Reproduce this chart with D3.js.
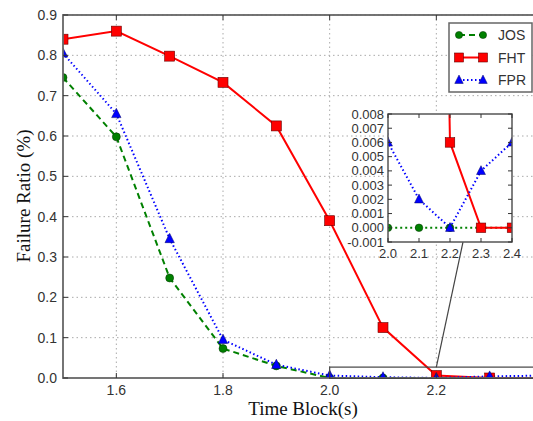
<!DOCTYPE html>
<html lang="en">
<head>
  <meta charset="UTF-8">
  <title>Failure Ratio vs Time Block</title>
  <script src="https://d3js.org/d3.v7.min.js"></script>
  <style>
    body { margin: 0; background: #fff; }
    .tick-label { font-family: "Liberation Sans", Arial, sans-serif; fill: #333; }
    .axis-title { font-family: "Liberation Serif", "Times New Roman", serif; fill: #111; }
  </style>
</head>
<body>
  <div id="chart"></div>
  <script>
    // data
    const blocks = [1.5, 1.6, 1.7, 1.8, 1.9, 2.0, 2.1, 2.2, 2.3, 2.4];
    const jos = [0.745, 0.598, 0.248, 0.073, 0.030, 0.0, 0.0, 0.0, 0.0, 0.0];
    const fht = [0.840, 0.860, 0.798, 0.733, 0.625, 0.390, 0.125, 0.006, 0.0, 0.0];
    const fpr = [0.805, 0.655, 0.345, 0.095, 0.033, 0.006, 0.002, 0.0, 0.004, 0.006];
    const xTicks = [1.6, 1.8, 2.0, 2.2];
    const yTicks = [0.0, 0.1, 0.2, 0.3, 0.4, 0.5, 0.6, 0.7, 0.8, 0.9];
    const insetXTicks = [2.0, 2.1, 2.2, 2.3, 2.4];
    const insetYTicks = [-0.001, 0, 0.001, 0.002, 0.003, 0.004, 0.005, 0.006, 0.007, 0.008];

    const series = [
      { name: "JOS", values: jos, color: "#008000", dash: "6,4", insetDash: "2,3", marker: "circle" },
      { name: "FHT", values: fht, color: "#ff0000", dash: null, insetDash: null, marker: "square" },
      { name: "FPR", values: fpr, color: "#0000ff", dash: "1.5,2.5", insetDash: "1.5,2.5", marker: "triangle" }
    ];

    const W = 533, H = 421;
    const svg = d3.select("#chart").append("svg").attr("width", W).attr("height", H);

    const x = d3.scaleLinear().domain([1.5, 2.4]).range([63, 543]);
    const y = d3.scaleLinear().domain([0, 0.9]).range([378, 15]);

    svg.append("clipPath").attr("id", "plotclip")
      .append("rect").attr("x", 63).attr("y", 15).attr("width", 480).attr("height", 363);

    // grid
    const grid = svg.append("g");
    grid.selectAll(".gx").data(xTicks).enter().append("line")
      .attr("x1", d => x(d)).attr("x2", d => x(d)).attr("y1", 15).attr("y2", 378)
      .attr("stroke", "#aaa").attr("stroke-dasharray", "1.5,3");
    grid.selectAll(".gy").data(yTicks.slice(1)).enter().append("line")
      .attr("x1", 63).attr("x2", 543).attr("y1", d => y(d)).attr("y2", d => y(d))
      .attr("stroke", "#aaa").attr("stroke-dasharray", "1.5,3");

    function drawMarker(g, type, cx, cy, color, size) {
      if (type === "circle") {
        g.append("circle").attr("cx", cx).attr("cy", cy).attr("r", size * 0.4)
          .attr("fill", color).attr("stroke", "#003300").attr("stroke-width", 0.5);
      } else if (type === "square") {
        g.append("rect").attr("x", cx - size / 2).attr("y", cy - size / 2)
          .attr("width", size).attr("height", size)
          .attr("fill", color).attr("stroke", "#660000").attr("stroke-width", 0.6);
      } else {
        const s = size;
        g.append("path")
          .attr("d", `M${cx},${cy - s * 0.55}L${cx + s * 0.47},${cy + s * 0.38}L${cx - s * 0.47},${cy + s * 0.38}Z`)
          .attr("fill", color).attr("stroke", "#000066").attr("stroke-width", 0.5);
      }
    }

    // main lines
    const plot = svg.append("g").attr("clip-path", "url(#plotclip)");
    series.forEach(s => {
      const line = d3.line().x((d, i) => x(blocks[i])).y(d => y(d));
      plot.append("path").datum(s.values).attr("d", line)
        .attr("fill", "none").attr("stroke", s.color).attr("stroke-width", 2)
        .attr("stroke-dasharray", s.dash);
    });
    series.forEach(s => {
      s.values.forEach((v, i) => drawMarker(plot, s.marker, x(blocks[i]), y(v), s.color, 10));
    });

    // frame
    svg.append("rect").attr("x", 63).attr("y", 15).attr("width", 480).attr("height", 363)
      .attr("fill", "none").attr("stroke", "#666").attr("stroke-width", 1.8);

    // ticks (inward)
    xTicks.forEach(t => {
      svg.append("line").attr("x1", x(t)).attr("x2", x(t)).attr("y1", 378).attr("y2", 373).attr("stroke", "#333");
      svg.append("line").attr("x1", x(t)).attr("x2", x(t)).attr("y1", 15).attr("y2", 20).attr("stroke", "#333");
      svg.append("text").attr("class", "tick-label").attr("x", x(t)).attr("y", 395)
        .attr("text-anchor", "middle").attr("font-size", 14).text(t.toFixed(1));
    });
    yTicks.forEach(t => {
      svg.append("line").attr("x1", 63).attr("x2", 68).attr("y1", y(t)).attr("y2", y(t)).attr("stroke", "#333");
      svg.append("text").attr("class", "tick-label").attr("x", 57).attr("y", y(t) + 5)
        .attr("text-anchor", "end").attr("font-size", 14).text(t.toFixed(1));
    });

    svg.append("text").attr("class", "axis-title").attr("x", 303).attr("y", 415)
      .attr("text-anchor", "middle").attr("font-size", 19).text("Time Block(s)");
    svg.append("text").attr("class", "axis-title")
      .attr("transform", "translate(30,196) rotate(-90)")
      .attr("text-anchor", "middle").attr("font-size", 19).text("Failure Ratio (%)");

    // zoom box + connector
    svg.append("rect").attr("x", x(2.0)).attr("y", y(0.027)).attr("width", x(2.4) - x(2.0)).attr("height", y(-0.001) - y(0.027))
      .attr("fill", "none").attr("stroke", "#444").attr("stroke-width", 1.2);
    svg.append("line").attr("x1", x(2.2)).attr("y1", y(0.027)).attr("x2", 463).attr("y2", 242)
      .attr("stroke", "#444").attr("stroke-width", 1.2);

    // legend
    const leg = svg.append("g");
    leg.append("rect").attr("x", 449).attr("y", 23).attr("width", 83).attr("height", 69)
      .attr("fill", "#fff").attr("stroke", "#666").attr("stroke-width", 1.5);
    series.forEach((s, i) => {
      const ly = 35 + i * 22.5;
      leg.append("line").attr("x1", 459).attr("x2", 483).attr("y1", ly).attr("y2", ly)
        .attr("stroke", s.color).attr("stroke-width", 2).attr("stroke-dasharray", s.dash);
      drawMarker(leg, s.marker, 459, ly, s.color, 9);
      drawMarker(leg, s.marker, 483, ly, s.color, 9);
      leg.append("text").attr("class", "tick-label").attr("x", 498).attr("y", ly + 5)
        .attr("font-size", 14).attr("fill", "#222").text(s.name);
    });

    // inset
    const ix = d3.scaleLinear().domain([2.0, 2.4]).range([388, 512]);
    const iy = d3.scaleLinear().domain([-0.001, 0.008]).range([242, 114]);
    svg.append("rect").attr("x", 388).attr("y", 114).attr("width", 124).attr("height", 128).attr("fill", "#fff");
    svg.append("clipPath").attr("id", "insetclip")
      .append("rect").attr("x", 388).attr("y", 114).attr("width", 124).attr("height", 128);
    const inset = svg.append("g").attr("clip-path", "url(#insetclip)");
    const from = blocks.indexOf(2.0);
    series.forEach(s => {
      const pts = s.values.slice(from - 1);
      const xs = blocks.slice(from - 1);
      const line = d3.line().x((d, i) => ix(xs[i])).y(d => iy(d));
      inset.append("path").datum(pts).attr("d", line)
        .attr("fill", "none").attr("stroke", s.color).attr("stroke-width", 2)
        .attr("stroke-dasharray", s.insetDash);
    });
    series.forEach(s => {
      s.values.forEach((v, i) => {
        if (blocks[i] >= 2.0) drawMarker(inset, s.marker, ix(blocks[i]), iy(v), s.color, 9.5);
      });
    });
    svg.append("rect").attr("x", 388).attr("y", 114).attr("width", 124).attr("height", 128)
      .attr("fill", "none").attr("stroke", "#555").attr("stroke-width", 1.5);
    insetXTicks.forEach(t => {
      svg.append("line").attr("x1", ix(t)).attr("x2", ix(t)).attr("y1", 242).attr("y2", 238).attr("stroke", "#333");
      svg.append("line").attr("x1", ix(t)).attr("x2", ix(t)).attr("y1", 114).attr("y2", 118).attr("stroke", "#333");
      svg.append("text").attr("class", "tick-label").attr("x", ix(t)).attr("y", 258)
        .attr("text-anchor", "middle").attr("font-size", 13).text(t.toFixed(1));
    });
    insetYTicks.forEach(t => {
      svg.append("line").attr("x1", 388).attr("x2", 392).attr("y1", iy(t)).attr("y2", iy(t)).attr("stroke", "#333");
      svg.append("line").attr("x1", 512).attr("x2", 508).attr("y1", iy(t)).attr("y2", iy(t)).attr("stroke", "#333");
      svg.append("text").attr("class", "tick-label").attr("x", 384).attr("y", iy(t) + 4.5)
        .attr("text-anchor", "end").attr("font-size", 13).text(t.toFixed(3));
    });
  </script>
</body>
</html>
